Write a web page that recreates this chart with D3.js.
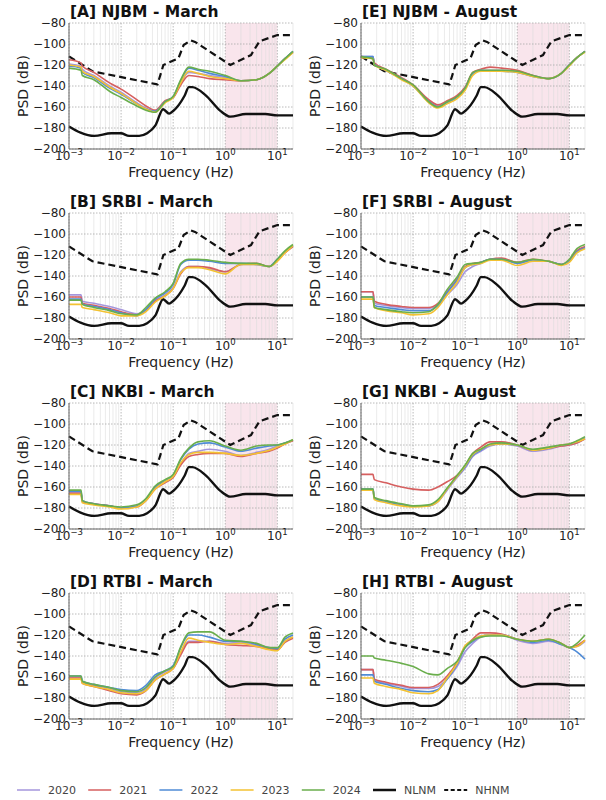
<!DOCTYPE html>
<meta charset="utf-8">
<head>
<title>PSD by station and month</title>
<script src="https://d3js.org/d3.v7.min.js"></script>
<style>
  body { margin: 0; background: #ffffff; }
  text { font-family: "DejaVu Sans", sans-serif; }
</style>
</head>
<body>
<svg width="606" height="800"></svg>
<script>

// frequency grid shared by all yearly curves (Hz)
var freqs = [0.001, 0.0017, 0.0018, 0.003, 0.006, 0.01, 0.02, 0.03, 0.045, 0.07, 0.1,
             0.14, 0.2, 0.3, 0.5, 1, 2, 4, 7, 10, 14, 20];

var years = ["2020", "2021", "2022", "2023", "2024"];
var yearColors = ["#a596dc", "#d65f5f", "#4f8bd6", "#f3c232", "#6aae4c"];

// order in every panel: 2020, 2021, 2022, 2023, 2024
var psdA = [
  [-119,-121,-124,-130,-140,-146,-156,-161,-164,-155,-151,-137,-127,-128,-130,-132,-135,-134,-128,-121,-114,-107],
  [-115,-118,-121,-127,-137,-143,-153,-159,-163,-154,-151,-139,-130,-131,-133,-134,-135,-134,-128,-121,-114,-108],
  [-121,-123,-127,-132,-142,-148,-157,-162,-164,-155,-150,-135,-123,-125,-128,-131,-135,-134,-128,-121,-114,-107],
  [-120,-122,-126,-131,-141,-147,-157,-162,-165,-156,-151,-137,-126,-128,-131,-133,-135,-134,-128,-121,-115,-108],
  [-123,-125,-130,-134,-145,-151,-159,-163,-165,-155,-150,-134,-122,-124,-126,-130,-135,-134,-128,-121,-114,-107]
];
var psdE = [
  [-112,-112,-119,-125,-133,-139,-154,-159,-155,-150,-142,-128,-125,-125,-125,-126,-130,-133,-128,-120,-113,-107],
  [-112,-113,-118,-124,-132,-139,-153,-158,-154,-149,-141,-127,-124,-122,-123,-125,-130,-133,-128,-120,-113,-107],
  [-112,-112,-119,-125,-133,-140,-155,-160,-156,-151,-142,-128,-125,-126,-126,-127,-131,-133,-128,-120,-113,-107],
  [-113,-114,-120,-125,-134,-140,-156,-161,-157,-152,-144,-130,-126,-126,-126,-127,-131,-133,-128,-121,-113,-108],
  [-112,-114,-120,-124,-133,-139,-155,-160,-155,-150,-142,-127,-125,-125,-125,-126,-130,-133,-128,-120,-113,-107]
];
var psdB = [
  [-158,-158,-164,-166,-169,-172,-176,-172,-163,-158,-151,-136,-131,-131,-133,-136,-129,-129,-131,-125,-117,-111],
  [-160,-160,-166,-168,-171,-174,-177,-173,-164,-159,-152,-138,-131,-131,-132,-136,-129,-128,-131,-125,-118,-112],
  [-162,-162,-167,-169,-172,-175,-178,-172,-162,-156,-148,-129,-125,-125,-126,-128,-128,-129,-131,-124,-117,-111],
  [-167,-167,-170,-172,-175,-178,-178,-174,-165,-159,-152,-137,-132,-132,-134,-138,-129,-129,-131,-126,-118,-111],
  [-163,-163,-167,-170,-173,-176,-177,-170,-161,-155,-147,-128,-124,-124,-125,-127,-128,-128,-131,-124,-116,-110]
];
var psdF = [
  [-155,-155,-166,-168,-170,-171,-171,-168,-158,-148,-136,-131,-128,-124,-124,-128,-125,-126,-129,-126,-116,-113],
  [-155,-155,-164,-167,-169,-170,-170,-166,-155,-143,-131,-128,-127,-124,-123,-127,-124,-126,-129,-125,-116,-112],
  [-160,-160,-168,-170,-172,-173,-173,-168,-156,-144,-132,-129,-127,-124,-124,-128,-125,-126,-129,-126,-117,-113],
  [-162,-162,-170,-173,-175,-177,-176,-170,-158,-146,-132,-129,-128,-125,-125,-130,-126,-126,-130,-127,-118,-114],
  [-160,-160,-170,-172,-174,-175,-174,-167,-153,-141,-129,-128,-127,-124,-124,-127,-124,-126,-129,-124,-114,-110]
];
var psdC = [
  [-165,-165,-173,-176,-178,-180,-178,-172,-161,-155,-150,-138,-128,-126,-124,-126,-130,-127,-124,-121,-118,-116],
  [-166,-166,-174,-176,-178,-180,-179,-173,-162,-156,-151,-139,-131,-129,-128,-128,-131,-128,-126,-123,-119,-116],
  [-164,-164,-173,-176,-178,-180,-178,-172,-160,-154,-149,-134,-124,-119,-118,-122,-126,-123,-121,-120,-118,-115],
  [-167,-167,-175,-177,-179,-181,-179,-173,-162,-155,-150,-137,-129,-127,-127,-128,-130,-128,-125,-122,-119,-115],
  [-163,-163,-173,-176,-178,-179,-177,-171,-159,-153,-148,-133,-123,-117,-116,-121,-125,-121,-120,-120,-118,-115]
];
var psdG = [
  [-162,-162,-171,-174,-177,-178,-178,-174,-163,-151,-142,-131,-126,-121,-119,-121,-126,-124,-121,-120,-118,-114],
  [-148,-148,-153,-156,-160,-162,-163,-160,-155,-149,-140,-128,-122,-117,-117,-120,-125,-123,-121,-120,-118,-114],
  [-162,-162,-171,-174,-177,-178,-178,-173,-162,-150,-141,-130,-125,-120,-119,-120,-125,-123,-120,-119,-117,-113],
  [-163,-163,-172,-175,-178,-179,-178,-174,-162,-150,-140,-129,-124,-120,-119,-120,-125,-123,-120,-119,-117,-114],
  [-162,-162,-170,-173,-176,-178,-177,-172,-161,-149,-139,-128,-124,-119,-118,-120,-124,-122,-120,-119,-116,-112]
];
var psdD = [
  [-160,-160,-165,-168,-171,-174,-175,-171,-161,-155,-151,-137,-126,-126,-126,-128,-127,-130,-133,-134,-126,-122],
  [-161,-161,-166,-169,-173,-176,-177,-173,-163,-157,-152,-139,-127,-127,-126,-129,-130,-131,-133,-134,-127,-123],
  [-159,-159,-164,-167,-170,-172,-173,-168,-158,-154,-149,-132,-120,-120,-122,-126,-126,-129,-132,-133,-124,-120],
  [-162,-162,-166,-169,-172,-175,-176,-173,-163,-157,-152,-136,-123,-125,-127,-129,-128,-131,-134,-135,-126,-122],
  [-159,-159,-164,-167,-170,-173,-174,-170,-160,-154,-150,-131,-118,-117,-117,-125,-126,-128,-132,-132,-122,-118]
];
var psdH = [
  [-153,-153,-163,-166,-169,-171,-171,-169,-162,-150,-136,-128,-122,-120,-120,-125,-128,-126,-129,-132,-131,-126],
  [-153,-153,-162,-165,-168,-170,-170,-167,-159,-146,-131,-124,-118,-118,-119,-124,-126,-124,-128,-132,-130,-125],
  [-158,-158,-164,-167,-171,-173,-174,-172,-162,-148,-132,-126,-121,-120,-120,-124,-127,-125,-129,-132,-136,-143],
  [-161,-161,-166,-169,-172,-175,-176,-173,-161,-147,-130,-125,-121,-120,-120,-124,-126,-124,-128,-132,-131,-125],
  [-140,-140,-142,-144,-147,-150,-157,-158,-152,-145,-132,-125,-122,-121,-121,-124,-126,-124,-128,-132,-128,-120]
];

// Peterson noise models
var nlnmFreq = [0.001, 0.001667, 0.003049, 0.006494, 0.009901, 0.014286, 0.022222, 0.031646, 0.045662,
                0.064103, 0.083333, 0.1, 0.166667, 0.2, 0.232558, 0.416667, 0.806452, 1.25, 2.5, 5.882, 10, 20];
var nlnmDb = [-178.5, -184.4, -187.5, -185.0, -185.0, -187.5, -187.5, -185.0, -177.5,
              -162.1, -166.3, -163.8, -149.0, -141.1, -141.1, -148.7, -163.7, -169.2, -166.7, -166.7, -168.0, -168.0];
var nhnmFreq = [0.001, 0.002818, 0.05, 0.064935, 0.126582, 0.15873, 0.217391, 0.263158, 1.25, 3.125, 4.545, 10, 20];
var nhnmDb = [-111.8, -126.0, -138.5, -120.0, -113.5, -101.0, -96.5, -98.0, -120.0, -110.5, -97.4, -91.5, -91.5];

var titles = ["[A] NJBM - March", "[E] NJBM - August",
              "[B] SRBI - March", "[F] SRBI - August",
              "[C] NKBI - March", "[G] NKBI - August",
              "[D] RTBI - March", "[H] RTBI - August"];
var panelData = [psdA, psdE, psdB, psdF, psdC, psdG, psdD, psdH];

var yTicks = [-200, -180, -160, -140, -120, -100, -80];
var xDecades = [-3, -2, -1, 0, 1];

var svg = d3.select("svg");
var width = 224, height = 126;
var colLeft = [69, 361];

var x = d3.scaleLog().domain([1e-3, 20]).range([0, width]);
var y = d3.scaleLinear().domain([-200, -80]).range([height, 0]);

var minorTicks = [];
xDecades.forEach(function(e) {
  for (var k = 2; k <= 9; k++) {
    var v = k * Math.pow(10, e);
    if (v <= 20) minorTicks.push(v);
  }
});

var yearLine = d3.line()
  .x(function(d) { return x(d[0]); })
  .y(function(d) { return y(d[1]); })
  .curve(d3.curveMonotoneX);

titles.forEach(function(title, p) {
  var col = p % 2, row = Math.floor(p / 2);
  var g = svg.append("g")
    .attr("transform", "translate(" + colLeft[col] + "," + (23 + row * 190) + ")");

  // 1-10 Hz band
  g.append("rect")
    .attr("x", x(1)).attr("y", 0)
    .attr("width", x(10) - x(1)).attr("height", height)
    .attr("fill", "#f9e5ec");

  // grid
  g.selectAll(".minor").data(minorTicks).enter().append("line")
    .attr("x1", x).attr("x2", x).attr("y1", 0).attr("y2", height)
    .attr("stroke", "#dcdcdc").attr("stroke-width", 0.6);
  g.selectAll(".major").data(xDecades).enter().append("line")
    .attr("x1", function(e) { return x(Math.pow(10, e)); })
    .attr("x2", function(e) { return x(Math.pow(10, e)); })
    .attr("y1", 0).attr("y2", height)
    .attr("stroke", "#a8a8a8").attr("stroke-width", 0.8).attr("stroke-dasharray", "1.5,1.5");
  g.selectAll(".hgrid").data(yTicks).enter().append("line")
    .attr("x1", 0).attr("x2", width)
    .attr("y1", y).attr("y2", y)
    .attr("stroke", "#a8a8a8").attr("stroke-width", 0.8).attr("stroke-dasharray", "1.5,1.5");

  // noise models
  g.append("path")
    .datum(d3.zip(nhnmFreq, nhnmDb))
    .attr("fill", "none").attr("stroke", "#111").attr("stroke-width", 2.2)
    .attr("stroke-dasharray", "7,4")
    .attr("d", d3.line().x(function(d) { return x(d[0]); }).y(function(d) { return y(d[1]); }));
  g.append("path")
    .datum(d3.zip(nlnmFreq, nlnmDb))
    .attr("fill", "none").attr("stroke", "#111").attr("stroke-width", 2.4)
    .attr("d", yearLine);

  // yearly curves
  panelData[p].forEach(function(vals, i) {
    g.append("path")
      .datum(d3.zip(freqs, vals))
      .attr("fill", "none")
      .attr("stroke", yearColors[i])
      .attr("stroke-width", 1.6)
      .attr("d", yearLine);
  });

  // spines
  g.append("line").attr("x1", 0).attr("x2", 0).attr("y1", 0).attr("y2", height)
    .attr("stroke", "#666").attr("stroke-width", 1);
  g.append("line").attr("x1", 0).attr("x2", width).attr("y1", height).attr("y2", height)
    .attr("stroke", "#666").attr("stroke-width", 1);

  // y tick labels
  g.selectAll(".ylab").data(yTicks).enter().append("text")
    .attr("x", -3).attr("y", y).attr("dy", "0.36em")
    .attr("text-anchor", "end").attr("font-size", 12).attr("fill", "#222")
    .text(function(v) { return "\u2212" + Math.abs(v); });

  // x tick labels 10^n
  xDecades.forEach(function(e) {
    var t = g.append("text")
      .attr("x", x(Math.pow(10, e))).attr("y", height + 10.5)
      .attr("text-anchor", "middle").attr("font-size", 12).attr("fill", "#222");
    t.append("tspan").text("10");
    t.append("tspan").attr("dy", -5).attr("font-size", 8.5)
      .text(e < 0 ? "\u2212" + Math.abs(e) : String(e));
  });

  g.append("text")
    .attr("x", width / 2).attr("y", height + 28)
    .attr("text-anchor", "middle").attr("font-size", 14).attr("fill", "#222")
    .text("Frequency (Hz)");

  g.append("text")
    .attr("transform", "translate(-46," + (height / 2) + ") rotate(-90)")
    .attr("dy", "0.36em")
    .attr("text-anchor", "middle").attr("font-size", 14).attr("fill", "#222")
    .text("PSD (dB)");

  g.append("text")
    .attr("x", 1).attr("y", -6)
    .attr("font-size", 15.5).attr("font-weight", "bold").attr("fill", "#111")
    .text(title);
});

// legend
var legendItems = years.map(function(yr, i) { return {label: yr, color: yearColors[i], w: 1.5, dash: null}; });
legendItems.push({label: "NLNM", color: "#111", w: 2.5, dash: null});
legendItems.push({label: "NHNM", color: "#111", w: 2, dash: "4,2.5"});

var legend = svg.append("g").attr("transform", "translate(17,790)");
var item = legend.selectAll("g").data(legendItems).enter().append("g")
  .attr("transform", function(d, i) { return "translate(" + (i * 71.2) + ",0)"; });
item.append("line")
  .attr("x1", 0).attr("x2", 23).attr("y1", 0).attr("y2", 0)
  .attr("stroke", function(d) { return d.color; })
  .attr("stroke-width", function(d) { return d.w; })
  .attr("stroke-dasharray", function(d) { return d.dash; });
item.append("text")
  .attr("x", 31).attr("dy", "0.36em")
  .attr("font-size", 11).attr("fill", "#444")
  .text(function(d) { return d.label; });

</script>
</body>
